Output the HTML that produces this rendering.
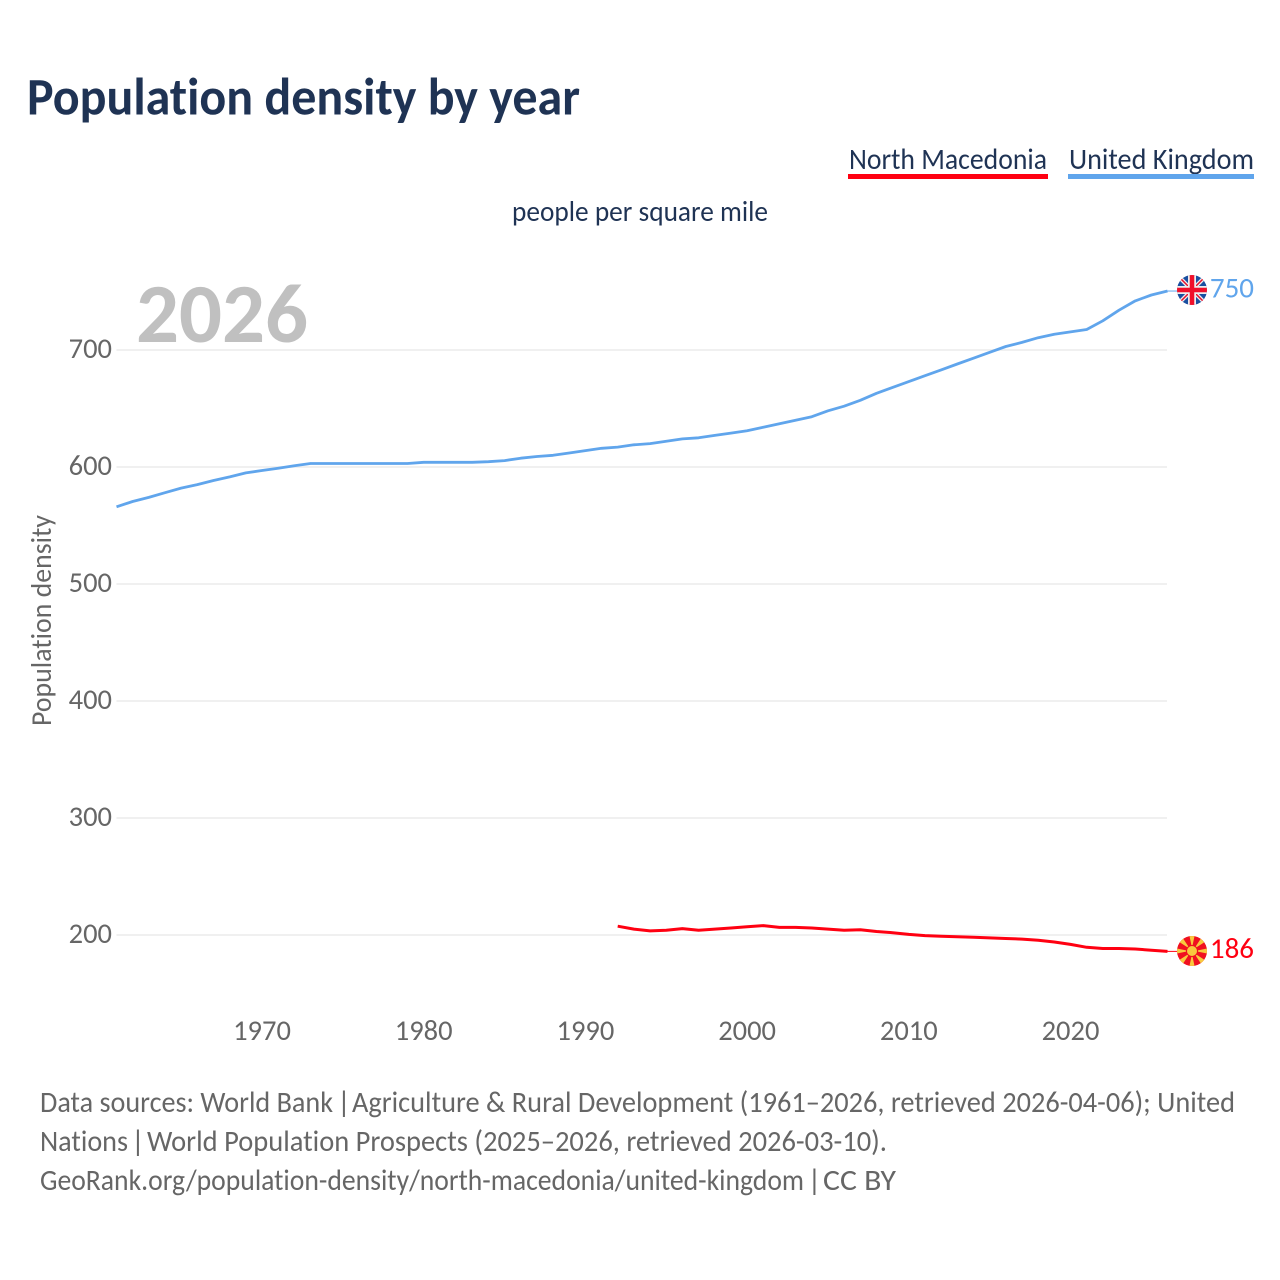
<!DOCTYPE html>
<html lang="en">
<head>
<meta charset="utf-8">
<title>Population density by year</title>
<style>
html,body{margin:0;padding:0;background:#fff;width:1280px;height:1280px;overflow:hidden}
svg{display:block}
text{font-family:"Carlito","Lato","Liberation Sans",sans-serif;font-variant-ligatures:none;font-kerning:normal}
.tick{font-size:28.5px;fill:#666}
.foot{font-size:30px;fill:#666}
</style>
</head>
<body>
<svg id="chart" width="1280" height="1280" viewBox="0 0 1280 1280" xmlns="http://www.w3.org/2000/svg">
<defs>
<clipPath id="clip-uk"><circle cx="1192" cy="290" r="15"/></clipPath>
<clipPath id="clip-mk"><circle cx="1192" cy="951" r="15"/></clipPath>
</defs>
<text x="27" y="114.5" font-size="53" font-weight="700" fill="#1f3354" textLength="553" lengthAdjust="spacingAndGlyphs">Population density by year</text>
<text x="849" y="169" font-size="29.5" fill="#1f3354" textLength="198" lengthAdjust="spacingAndGlyphs">North Macedonia</text>
<rect x="848" y="174" width="200" height="5" fill="#ff0011"/>
<text x="1069" y="169" font-size="29.5" fill="#1f3354" textLength="185" lengthAdjust="spacingAndGlyphs">United Kingdom</text>
<rect x="1068" y="174" width="186" height="5" fill="#60a5ec"/>
<text x="512" y="221" font-size="29" fill="#1f3354" textLength="256" lengthAdjust="spacingAndGlyphs">people per square mile</text>
<text x="136" y="342" font-size="84" font-weight="700" fill="#c0c0c0" textLength="172" lengthAdjust="spacingAndGlyphs">2026</text>
<text transform="translate(51 726) rotate(-90)" font-size="29" fill="#666" textLength="211" lengthAdjust="spacingAndGlyphs">Population density</text>
<g id="grid"></g>
<g id="ticks"></g>
<g id="series"></g>
<g clip-path="url(#clip-uk)">
<rect x="1177" y="275" width="30" height="30" fill="#1a4fa0"/>
<path d="M1177 275L1207 305M1207 275L1177 305" stroke="#eee" stroke-width="4"/>
<path d="M1177 275L1207 305M1207 275L1177 305" stroke="#e8112d" stroke-width="1.5"/>
<path d="M1192 275V305M1177 290H1207" stroke="#eee" stroke-width="8"/>
<path d="M1192 275V305M1177 290H1207" stroke="#f0102a" stroke-width="4.5"/>
</g>
<g clip-path="url(#clip-mk)">
<rect x="1177" y="936" width="30" height="30" fill="#f01020"/>
<path id="mk-rays" fill="#f8c93e" d=""/>
<circle cx="1192" cy="951" r="5.5" fill="#f8c93e" stroke="#f01020" stroke-width="1"/>
</g>
<g id="end-labels"></g>
<g>
<text class="foot" x="40" y="1112" textLength="293" lengthAdjust="spacingAndGlyphs">Data sources: World Bank</text>
<text class="foot" x="337" y="1112">|</text>
<text class="foot" x="352" y="1112" textLength="883" lengthAdjust="spacingAndGlyphs">Agriculture &amp; Rural Development (1961–2026, retrieved 2026-04-06); United</text>
</g>
<g>
<text class="foot" x="40" y="1151" textLength="88" lengthAdjust="spacingAndGlyphs">Nations</text>
<text class="foot" x="131" y="1151">|</text>
<text class="foot" x="147" y="1151" textLength="740" lengthAdjust="spacingAndGlyphs">World Population Prospects (2025–2026, retrieved 2026-03-10).</text>
</g>
<g>
<text class="foot" x="40" y="1190" textLength="764" lengthAdjust="spacingAndGlyphs">GeoRank.org/population-density/north-macedonia/united-kingdom</text>
<text class="foot" x="807.5" y="1190">|</text>
<text class="foot" x="823" y="1190" textLength="73" lengthAdjust="spacingAndGlyphs">CC BY</text>
</g>
</svg>
<script>
const yTicks = [200, 300, 400, 500, 600, 700];
const xTicks = [1970, 1980, 1990, 2000, 2010, 2020];
const ukStartYear = 1961;
const ukValues = [566, 570.5, 574, 578, 582, 585, 588.5, 591.5, 595, 597, 599, 601, 603, 603, 603, 603, 603, 603, 603, 604, 604, 604, 604, 604.5, 605.5, 607.5, 609, 610, 612, 614, 616, 617, 619, 620, 622, 624, 625, 627, 629, 631, 634, 637, 640, 643, 648, 652, 657, 663, 668, 673, 678, 683, 688, 693, 698, 703, 706.5, 710.5, 713.5, 715.5, 717.5, 725, 734, 742, 747, 750.4];
const mkStartYear = 1992;
const mkValues = [207.5, 205, 203.5, 204, 205.5, 204, 205, 206, 207, 208, 206.5, 206.5, 206, 205, 204, 204.5, 203, 202, 200.5, 199.5, 199, 198.5, 198, 197.5, 197, 196.5, 195.5, 194, 192, 189.5, 188.5, 188.5, 188, 187, 186];

const NS = 'http://www.w3.org/2000/svg';
const xScale = function (year) { return 262 + (year - 1970) * 16.17; };
const yScale = function (value) { return 935 - (value - 200) * 1.17; };
const make = function (tag, parent) {
  const el = document.createElementNS(NS, tag);
  parent.appendChild(el);
  return el;
};

const gridGroup = document.getElementById('grid');
const tickGroup = document.getElementById('ticks');
yTicks.forEach(function (v) {
  const line = make('line', gridGroup);
  
  
  line.setAttribute('x1', xScale(ukStartYear));
  line.setAttribute('x2', 1167);
  line.setAttribute('y1', yScale(v));
  line.setAttribute('y2', yScale(v));
  line.setAttribute('stroke', '#f0f0f0');
  line.setAttribute('stroke-width', '2');
  const t = make('text', tickGroup);
  
  
  t.setAttribute('class', 'tick');
  t.setAttribute('x', 112);
  t.setAttribute('y', yScale(v) + 8);
  t.setAttribute('text-anchor', 'end');
  t.textContent = v;
});
xTicks.forEach(function (y) {
  const t = make('text', tickGroup);
  
  
  t.setAttribute('class', 'tick');
  t.setAttribute('x', xScale(y));
  t.setAttribute('y', 1040);
  t.setAttribute('text-anchor', 'middle');
  t.textContent = y;
});

const seriesGroup = document.getElementById('series');
const labelGroup = document.getElementById('end-labels');
const drawSeries = function (values, startYear, color, width, lineName, connectorName, labelName) {
  const pts = values.map(function (v, i) {
    return xScale(startYear + i).toFixed(1) + ',' + yScale(v).toFixed(1);
  }).join(' ');
  const line = make('polyline', seriesGroup);
  
  
  line.setAttribute('points', pts);
  line.setAttribute('fill', 'none');
  line.setAttribute('stroke', color);
  line.setAttribute('stroke-width', width);
  line.setAttribute('stroke-linejoin', 'round');
  const last = values[values.length - 1];
  const lastY = yScale(last);
  const link = make('line', seriesGroup);
  
  
  link.setAttribute('x1', xScale(startYear + values.length - 1));
  link.setAttribute('x2', 1178);
  link.setAttribute('y1', lastY);
  link.setAttribute('y2', lastY);
  link.setAttribute('stroke', color);
  link.setAttribute('stroke-width', '1');
  const lab = make('text', labelGroup);
  
  
  lab.setAttribute('x', 1254);
  lab.setAttribute('y', lastY + 6.5);
  lab.setAttribute('text-anchor', 'end');
  lab.setAttribute('font-size', '29');
  lab.setAttribute('fill', color);
  lab.textContent = Math.round(last);
};
drawSeries(ukValues, ukStartYear, '#60a5ec', 2.8, 'united-kingdom-line', 'united-kingdom-connector', 'united-kingdom-end-value');
drawSeries(mkValues, mkStartYear, '#ff0011', 3, 'north-macedonia-line', 'north-macedonia-connector', 'north-macedonia-end-value');

let rays = '';
for (let i = 0; i < 8; i++) {
  const a = i * Math.PI / 4;
  const s = 0.17;
  const p = function (ang, r) {
    return (1192 + r * Math.sin(ang)).toFixed(1) + ' ' + (951 - r * Math.cos(ang)).toFixed(1);
  };
  rays += 'M' + p(a, 3) + 'L' + p(a - s, 17) + 'L' + p(a + s, 17) + 'Z';
}
document.getElementById('mk-rays').setAttribute('d', rays);
</script>
</body>
</html>
